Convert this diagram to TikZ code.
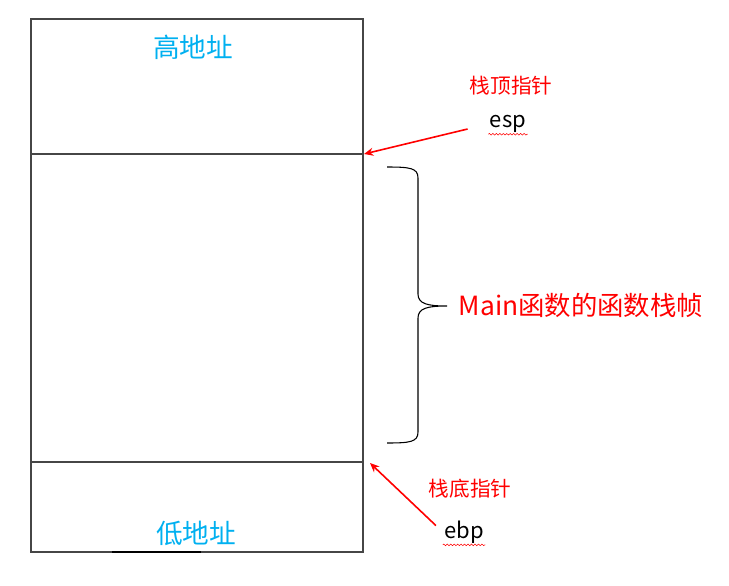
\documentclass[tikz,border=0pt]{standalone}
\usepackage{fontspec}
\setmainfont{Noto Sans CJK SC}
\usepackage{tikz}
\usetikzlibrary{arrows.meta,decorations.pathmorphing}
\definecolor{addrblue}{RGB}{0,176,240}
\definecolor{ptrred}{RGB}{255,0,0}
\definecolor{boxgray}{RGB}{70,70,70}

\tikzset{
  addr/.style={text=addrblue, font=\fontsize{20}{24}\selectfont},
  ptrname/.style={text=ptrred, font=\fontsize{15.5}{18}\selectfont},
  reg/.style={text=black, font=\fontsize{16.5}{19}\selectfont, inner sep=1pt},
  ptr/.style={ptrred, line width=1.2pt, -{Stealth[length=7pt,width=6pt]}},
  squiggle/.style={ptrred, line width=0.4pt, decorate,
    decoration={snake, amplitude=0.6pt, segment length=2.6pt}}
}

\begin{document}
\begin{tikzpicture}[x=0.75pt, y=-0.75pt]
\useasboundingbox (0,0) rectangle (729,586);

% Pile
\draw[boxgray, line width=0.8pt] (31,19) rectangle (363,552);
\draw[boxgray, line width=0.8pt] (31,154) -- (363,154);
\draw[boxgray, line width=0.8pt] (31,462) -- (363,462);
\draw[black, line width=1.6pt] (112,552) -- (201,552);

% Coins du cadre
\coordinate (spTop) at (364,154);
\coordinate (bpTop) at (370,463);

% Adresses
\node[addr] (hiAddr) at (193,47) {高地址};
\node[addr] (loAddr) at (196,533) {低地址};

% Pointeurs
\node[ptrname] (espName) at (511,86) {栈顶指针};
\node[reg] (esp) at (508,124) {esp};
\node[ptrname] (ebpName) at (470,489) {栈底指针};
\node[reg] (ebp) at (464,532) {ebp};

\draw[squiggle] (esp.south west) -- (esp.south east);
\draw[squiggle] (ebp.south west) -- (ebp.south east);

\draw[ptr, shorten <=16pt] (esp.west) -- (spTop);
\draw[ptr, shorten <=7pt] (ebp.west) -- (bpTop);

% Accolade
\draw[black, line width=0.8pt]
  (387,167) .. controls (410,167) and (418,168) .. (418,178)
  -- (418,294) .. controls (418,304) and (428,306) .. (447,306)
  .. controls (428,306) and (418,308) .. (418,318)
  -- (418,432) .. controls (418,442) and (410,443) .. (387,443);
\node[ptrname, font=\fontsize{19.8}{23}\selectfont, anchor=west] (frame) at (454,305) {Main函数的函数栈帧};

\end{tikzpicture}
\end{document}
